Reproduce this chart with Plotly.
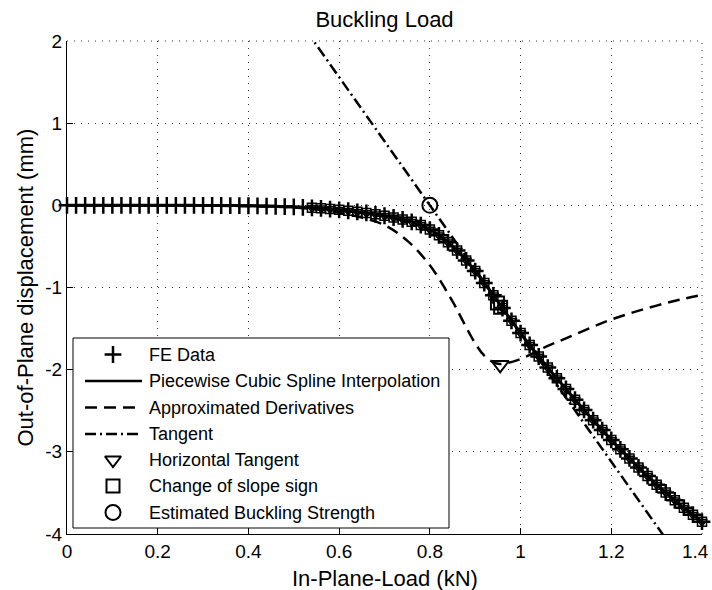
import numpy as np
import plotly.graph_objects as go

# ---- data -----------------------------------------------------------------
# FE samples: in-plane load (kN) and out-of-plane displacement (mm)
load_kN = [0.00, 0.02, 0.04, 0.06, 0.08, 0.10, 0.12, 0.14, 0.16, 0.18,
           0.20, 0.22, 0.24, 0.26, 0.28, 0.30, 0.32, 0.34, 0.36, 0.38,
           0.40, 0.42, 0.44, 0.46, 0.48, 0.50, 0.52, 0.54, 0.56, 0.58,
           0.60, 0.62, 0.64, 0.66, 0.68, 0.70, 0.72, 0.74, 0.76, 0.78,
           0.80, 0.82, 0.84, 0.86, 0.88, 0.90, 0.92, 0.94, 0.96, 0.98,
           1.00, 1.02, 1.04, 1.06, 1.08, 1.10, 1.12, 1.14, 1.16, 1.18,
           1.20, 1.22, 1.24, 1.26, 1.28, 1.30, 1.32, 1.34, 1.36, 1.38,
           1.40]
disp_mm = [0.0, 0.0, 0.0, 0.0, 0.0, 0.0, 0.0, 0.0, 0.0, 0.0,
           0.0, 0.0, 0.0, 0.0, 0.0, -0.001, -0.001, -0.002, -0.003, -0.004,
           -0.005, -0.007, -0.009, -0.012, -0.015, -0.019, -0.024, -0.030, -0.037, -0.045,
           -0.055, -0.066, -0.079, -0.093, -0.109, -0.127, -0.148, -0.172, -0.201, -0.240,
           -0.295, -0.365, -0.450, -0.550, -0.670, -0.800, -0.945, -1.095, -1.250, -1.405,
           -1.555, -1.700, -1.840, -1.975, -2.105, -2.235, -2.365, -2.490, -2.615, -2.735,
           -2.855, -2.970, -3.080, -3.190, -3.295, -3.400, -3.495, -3.590, -3.680, -3.765,
           -3.850]

# approximated (scaled) derivative of the displacement curve
deriv_load = [0.0, 0.1, 0.2, 0.3, 0.4, 0.45, 0.5, 0.55, 0.6, 0.65,
              0.7, 0.75, 0.8, 0.85, 0.875, 0.9, 0.92, 0.94, 0.955, 0.97,
              0.99, 1.02, 1.06, 1.1, 1.15, 1.2, 1.25, 1.3, 1.35, 1.4]
deriv_val = [0.0, 0.0, 0.0, -0.005, -0.01, -0.015, -0.025, -0.05, -0.09, -0.15,
             -0.24, -0.43, -0.73, -1.17, -1.43, -1.68, -1.83, -1.91, -1.93, -1.92,
             -1.89, -1.82, -1.71, -1.62, -1.50, -1.39, -1.30, -1.22, -1.15, -1.09]

# tangent through the inflection point
buckling_load = [0.80]       # tangent crosses zero displacement here
buckling_disp = [0.0]
tangent_slope = -7.8         # mm per kN
tangent_span = [0.50, 1.40]

# horizontal tangent of the derivative curve
horiz_tan_load = [0.955]
horiz_tan_val = [-1.94]

# change of slope sign (inflection)
slope_sign_load = [0.949, 0.956]
slope_sign_disp = [-1.19, -1.24]

# curve samples checked for tangent / slope sign (from 0.54 kN on)
check_from = 27

x_tick_vals = [0, 0.2, 0.4, 0.6, 0.8, 1.0, 1.2, 1.4]
x_tick_text = ["0", "0.2", "0.4", "0.6", "0.8", "1", "1.2", "1.4"]
y_tick_vals = [-4, -3, -2, -1, 0, 1, 2]
y_tick_text = ["-4", "-3", "-2", "-1", "0", "1", "2"]

legend_labels = ["FE Data", "Piecewise Cubic Spline Interpolation",
                 "Approximated Derivatives", "Tangent", "Horizontal Tangent",
                 "Change of slope sign", "Estimated Buckling Strength"]

# ---- styling --------------------------------------------------------------
FONT = "Liberation Sans, Arial, Helvetica, sans-serif"
W, H = 712, 590
L, R, T, B = 67, 10, 41, 56
DASH = "12px,7px"
DASHDOT = "11px,4px,2px,4px"
GRID_DASH = "1px,6px"
GRID_COLOR = "#333333"
BLK = "black"
TICK_SIZE = 19

fig = go.Figure()

# derivative curve
fig.add_trace(go.Scatter(x=deriv_load, y=deriv_val, mode="lines",
                         line=dict(color=BLK, width=2.5, dash=DASH, shape="spline"),
                         showlegend=False, hoverinfo="skip"))

# tangent line
tx = np.array(tangent_span)
ty = tangent_slope * (tx - buckling_load[0]) + buckling_disp[0]
fig.add_trace(go.Scatter(x=tx, y=ty, mode="lines",
                         line=dict(color=BLK, width=2.5, dash=DASHDOT),
                         showlegend=False, hoverinfo="skip"))

# spline interpolation of FE data
fig.add_trace(go.Scatter(x=load_kN, y=disp_mm, mode="lines",
                         line=dict(color=BLK, width=3, shape="spline", smoothing=0.8),
                         showlegend=False, hoverinfo="skip"))

# FE data points
fig.add_trace(go.Scatter(x=load_kN, y=disp_mm, mode="markers", cliponaxis=False,
                         marker=dict(symbol="cross-thin", size=12, color=BLK,
                                     line=dict(color=BLK, width=2.5)),
                         showlegend=False))

# checked samples along the curve
cx = load_kN[check_from:]
cy = disp_mm[check_from:]
fig.add_trace(go.Scatter(x=cx, y=cy, mode="markers", cliponaxis=False,
                         marker=dict(symbol="triangle-down-open", size=9, color=BLK,
                                     line=dict(width=1.5)),
                         showlegend=False))
fig.add_trace(go.Scatter(x=cx, y=cy, mode="markers", cliponaxis=False,
                         marker=dict(symbol="square-open", size=9, color=BLK,
                                     line=dict(width=1.5)),
                         showlegend=False))

# special points
fig.add_trace(go.Scatter(x=horiz_tan_load, y=horiz_tan_val, mode="markers",
                         cliponaxis=False,
                         marker=dict(symbol="triangle-down-open", size=15, color=BLK,
                                     line=dict(width=2)),
                         showlegend=False))
fig.add_trace(go.Scatter(x=slope_sign_load, y=slope_sign_disp, mode="markers",
                         cliponaxis=False,
                         marker=dict(symbol="square-open", size=13, color=BLK,
                                     line=dict(width=2)),
                         showlegend=False))
fig.add_trace(go.Scatter(x=buckling_load, y=buckling_disp, mode="markers",
                         cliponaxis=False,
                         marker=dict(symbol="circle-open", size=15, color=BLK,
                                     line=dict(width=2)),
                         showlegend=False))

# ---- legend box on a pixel-scaled overlay axis ----------------------------
box_l, box_r, box_t, box_b = 73, 449, 338, 528
row_y = [354.5, 381, 407.5, 434, 460, 486, 512.5]
sym_l, sym_r, sym_c, text_x = 85, 142, 113, 147

fig.add_trace(go.Scatter(x=[box_l, box_r, box_r, box_l, box_l],
                         y=[box_t, box_t, box_b, box_b, box_t],
                         xaxis="x2", yaxis="y2", mode="lines", fill="toself",
                         fillcolor="white", line=dict(color=BLK, width=1),
                         showlegend=False, hoverinfo="skip"))

line_rows = {1: "solid", 2: DASH, 3: DASHDOT}
for i, d in line_rows.items():
    fig.add_trace(go.Scatter(x=[sym_l, sym_r], y=[row_y[i], row_y[i]],
                             xaxis="x2", yaxis="y2", mode="lines",
                             line=dict(color=BLK, width=2.5, dash=d),
                             showlegend=False, hoverinfo="skip"))

marker_rows = [(0, "cross-thin", 12, 2.5), (4, "triangle-down-open", 14, 2),
               (5, "square-open", 13, 2), (6, "circle-open", 15, 2)]
for i, sym, sz, lw in marker_rows:
    fig.add_trace(go.Scatter(x=[sym_c], y=[row_y[i]], xaxis="x2", yaxis="y2",
                             mode="markers",
                             marker=dict(symbol=sym, size=sz, color=BLK,
                                         line=dict(color=BLK, width=lw)),
                             showlegend=False, hoverinfo="skip"))

annotations = []
for lbl, yy in zip(legend_labels, row_y):
    annotations.append(dict(text=lbl, x=text_x, y=yy, xref="x2", yref="y2",
                            xanchor="left", yanchor="middle", showarrow=False,
                            font=dict(family=FONT, size=18, color=BLK)))

# the last x tick label sits at the page edge: right-align it inside the page
edge_label = x_tick_text[-1]
x_tick_text_drawn = x_tick_text[:-1] + [""]
annotations.append(dict(text=edge_label, x=1, y=0, xref="paper", yref="paper",
                        xanchor="right", yanchor="middle", xshift=9, yshift=-17,
                        showarrow=False,
                        font=dict(family=FONT, size=TICK_SIZE, color=BLK)))

# axis titles
annotations.append(dict(text="In-Plane-Load (kN)", x=0.5, y=0, xref="paper",
                        yref="paper", xanchor="center", yanchor="middle",
                        yshift=-44, showarrow=False,
                        font=dict(family=FONT, size=22, color=BLK)))
annotations.append(dict(text="Out-of-Plane displacement (mm)", x=0, y=0.5,
                        xref="paper", yref="paper", xanchor="center",
                        yanchor="middle", xshift=-42, textangle=-90,
                        showarrow=False,
                        font=dict(family=FONT, size=22, color=BLK)))

# dotted grid lines along the open top and right edges of the frame
frame_edges = [
    dict(type="line", xref="paper", yref="paper", x0=0, x1=1, y0=1, y1=1),
    dict(type="line", xref="paper", yref="paper", x0=1, x1=1, y0=0, y1=1),
]
shapes = []
for e in frame_edges:
    e.update(layer="below", line=dict(color=GRID_COLOR, width=1, dash=GRID_DASH))
    shapes.append(e)

axis_common = dict(showline=True, linecolor=BLK, linewidth=1, mirror=False,
                   ticks="inside", ticklen=6, tickwidth=1, tickcolor=BLK,
                   showgrid=True, gridcolor=GRID_COLOR, gridwidth=1,
                   griddash=GRID_DASH, zeroline=False, automargin=False,
                   ticklabeloverflow="allow",
                   tickfont=dict(family=FONT, size=TICK_SIZE, color=BLK))

fig.update_layout(
    width=W, height=H,
    margin=dict(l=L, r=R, t=T, b=B, pad=0, autoexpand=False),
    paper_bgcolor="white", plot_bgcolor="white",
    font=dict(family=FONT, color=BLK),
    title=dict(text="Buckling Load", x=0.5, xref="paper", xanchor="center",
               y=1 - 19 / H, yref="container", yanchor="middle",
               font=dict(family=FONT, size=22, color=BLK)),
    xaxis=dict(range=[0, 1.4], tickvals=x_tick_vals, ticktext=x_tick_text_drawn,
               **axis_common),
    yaxis=dict(range=[-4, 2], tickvals=y_tick_vals, ticktext=y_tick_text,
               **axis_common),
    xaxis2=dict(range=[L, W - R], overlaying="x", visible=False, fixedrange=True),
    yaxis2=dict(range=[H - B, T], overlaying="y", visible=False, fixedrange=True),
    shapes=shapes,
    annotations=annotations,
    showlegend=False,
)

fig.write_html("out.html")
